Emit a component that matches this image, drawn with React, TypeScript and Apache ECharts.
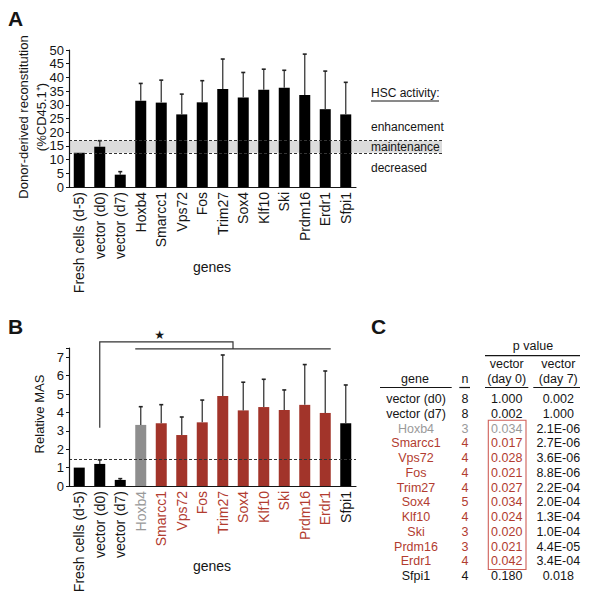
import React, { useEffect, useRef } from 'react';
import * as echarts from 'echarts';

// ---------- data ----------
const categories = ['Fresh cells (d-5)', 'vector (d0)', 'vector (d7)', 'Hoxb4', 'Smarcc1', 'Vps72', 'Fos', 'Trim27', 'Sox4', 'Klf10', 'Ski', 'Prdm16', 'Erdr1', 'Sfpi1'];
const reconValues = [12.5, 14.7, 4.5, 31.5, 30.8, 26.5, 30.9, 35.8, 32.7, 35.5, 36.2, 33.6, 28.4, 26.5];
const reconErrTop = [null, 16.9, 5.6, 37.8, 39.0, 33.9, 38.8, 46.7, 41.8, 43.0, 42.6, 48.5, 42.3, 38.2];
const maintenanceBand = [12.5, 16.9];
const masValues = [1.0, 1.2, 0.33, 3.32, 3.41, 2.77, 3.46, 4.89, 4.11, 4.29, 4.13, 4.41, 3.97, 3.41];
const masErrTop = [null, 1.42, 0.4, 4.31, 4.42, 3.75, 4.67, 7.12, 5.64, 5.8, 5.22, 6.6, 6.25, 5.49];
const masThreshold = 1.45;
const masGroup = ['control', 'control', 'control', 'reference', 'hit', 'hit', 'hit', 'hit', 'hit', 'hit', 'hit', 'hit', 'hit', 'other'];
const bracketFrom = 'vector (d0)';
const bracketRange = ['Hoxb4', 'Erdr1'];
const bracketLevels = [3.17, 7.83, 7.45];

const tableGenes = ['vector (d0)', 'vector (d7)', 'Hoxb4', 'Smarcc1', 'Vps72', 'Fos', 'Trim27', 'Sox4', 'Klf10', 'Ski', 'Prdm16', 'Erdr1', 'Sfpi1'];
const tableN = ['8', '8', '3', '4', '4', '4', '4', '5', '4', '3', '3', '4', '4'];
const pDay0 = ['1.000', '0.002', '0.034', '0.017', '0.028', '0.021', '0.027', '0.034', '0.024', '0.020', '0.021', '0.042', '0.180'];
const pDay7 = ['0.002', '1.000', '2.1E-06', '2.7E-06', '3.6E-06', '8.8E-06', '2.2E-04', '2.0E-04', '1.3E-04', '1.0E-04', '4.4E-05', '3.4E-04', '0.018'];
const tableGroup = ['control', 'control', 'reference', 'hit', 'hit', 'hit', 'hit', 'hit', 'hit', 'hit', 'hit', 'hit', 'other'];

// ---------- styles ----------
const FONT = '"Liberation Sans", Arial, Helvetica, sans-serif';
const INK = '#151515';
const barColor: Record<string, string> = { control: '#000000', reference: '#8e8e8e', hit: '#a2342a', other: '#000000' };
const textColor: Record<string, string> = { control: INK, reference: '#9a9a9a', hit: '#b23c30', other: INK };

function errSeries(xi: number, yi: number, vals: number[], tops: (number | null)[]) {
  return {
    type: 'custom',
    xAxisIndex: xi,
    yAxisIndex: yi,
    z: 4,
    silent: true,
    data: vals.map((v, i) => [i, v, tops[i]]).filter((d) => d[2] != null),
    encode: { x: 0, y: [1, 2] },
    renderItem: (params: any, api: any) => {
      const x = api.value(0);
      const lo = api.coord([x, api.value(1)]);
      const hi = api.coord([x, api.value(2)]);
      return {
        type: 'group',
        children: [
          { type: 'line', shape: { x1: lo[0], y1: lo[1], x2: hi[0], y2: hi[1] }, style: { stroke: '#3a3a3a', lineWidth: 1.3 } },
          { type: 'line', shape: { x1: hi[0] - 2, y1: hi[1], x2: hi[0] + 2, y2: hi[1] }, style: { stroke: '#222', lineWidth: 1.6 } },
        ],
      };
    },
  };
}

function catAxis(gridIndex: number, colorFn: (i: number) => string) {
  return {
    type: 'category',
    gridIndex,
    data: categories,
    axisLine: { lineStyle: { color: INK, width: 1.2 } },
    axisTick: { length: 4, lineStyle: { color: INK } },
    axisLabel: {
      interval: 0,
      rotate: 90,
      margin: 5,
      fontSize: 14,
      fontFamily: FONT,
      color: (_v: any, i: number) => colorFn(i),
    },
  };
}

function valAxis(gridIndex: number, max: number, interval: number) {
  return {
    type: 'value',
    gridIndex,
    min: 0,
    max,
    interval,
    z: 5,
    splitLine: { show: false },
    axisLine: { show: true, lineStyle: { color: INK, width: 1.2 } },
    axisTick: { show: true, length: 3, lineStyle: { color: INK } },
    axisLabel: {
      fontSize: 13,
      fontFamily: FONT,
      color: INK,
      margin: 5,
      formatter: (v: number) => (Number.isInteger(v) ? String(v) : ''),
    },
  };
}

export default function App() {
  const ref = useRef<HTMLDivElement>(null);

  useEffect(() => {
    if (!ref.current) return;
    const chart = echarts.init(ref.current, undefined, { renderer: 'svg' });

    const option: any = {
      animation: false,
      backgroundColor: '#ffffff',
      textStyle: { fontFamily: FONT },
      grid: [
        { left: 69, top: 50, width: 287, height: 137 },
        { left: 69, top: 50, width: 373, height: 137 },
        { left: 69, top: 348, width: 287, height: 138 },
      ],
      xAxis: [
        catAxis(0, () => INK),
        catAxis(2, (i) => textColor[masGroup[i]]),
        { type: 'value', gridIndex: 1, min: 0, max: 1, show: false },
      ],
      yAxis: [
        valAxis(0, 50, 5),
        valAxis(2, 7.5, 1),
        { type: 'value', gridIndex: 1, min: 0, max: 50, show: false },
      ],
      series: [
        {
          type: 'line',
          xAxisIndex: 2,
          yAxisIndex: 2,
          data: [[0, 0]],
          symbol: 'none',
          lineStyle: { opacity: 0 },
          silent: true,
          z: 1,
          markArea: {
            silent: true,
            itemStyle: { color: '#dcdcdc' },
            data: [[{ yAxis: maintenanceBand[0] }, { yAxis: maintenanceBand[1] }]],
          },
          markLine: {
            silent: true,
            symbol: 'none',
            label: { show: false },
            lineStyle: { type: [3, 2], color: '#333', width: 1.2 },
            data: [{ yAxis: maintenanceBand[0] }, { yAxis: maintenanceBand[1] }],
          },
        },
        {
          type: 'bar',
          xAxisIndex: 0,
          yAxisIndex: 0,
          barWidth: 11,
          z: 3,
          data: reconValues.map((v) => ({ value: v, itemStyle: { color: '#000' } })),
        },
        errSeries(0, 0, reconValues, reconErrTop),
        {
          type: 'line',
          xAxisIndex: 1,
          yAxisIndex: 1,
          data: [[0, 0]],
          symbol: 'none',
          lineStyle: { opacity: 0 },
          silent: true,
          z: 1,
          markLine: {
            silent: true,
            symbol: 'none',
            label: { show: false },
            lineStyle: { type: [3, 2], color: '#333', width: 1.2 },
            data: [{ yAxis: masThreshold }],
          },
        },
        {
          type: 'bar',
          xAxisIndex: 1,
          yAxisIndex: 1,
          barWidth: 11,
          z: 3,
          data: masValues.map((v, i) => ({ value: v, itemStyle: { color: barColor[masGroup[i]] } })),
        },
        errSeries(1, 1, masValues, masErrTop),
      ],
    };
    chart.setOption(option);

    // ---------- annotations ----------
    const pxB = (cat: string, v: number) =>
      chart.convertToPixel({ xAxisIndex: 1, yAxisIndex: 1 }, [categories.indexOf(cat), v]) as number[];
    const base = pxB(bracketFrom, bracketLevels[0]);
    const up = pxB(bracketFrom, bracketLevels[1]);
    const left = pxB(bracketRange[0], bracketLevels[2]);
    const right = pxB(bracketRange[1], bracketLevels[2]);
    const midX = (left[0] + right[0]) / 2;
    const lineStyle = { stroke: '#333', lineWidth: 1.2, fill: null };

    const txt = (x: number, y: number, text: string, o: any = {}) => ({
      type: 'text',
      x,
      y,
      z: 100,
      silent: true,
      style: {
        text,
        fontFamily: FONT,
        fontSize: 12.5,
        fill: INK,
        textAlign: 'center',
        textVerticalAlign: 'middle',
        ...o,
      },
    });

    const graphics: any[] = [
      txt(8, 18, 'A', { textAlign: 'left', fontSize: 21, fontWeight: 'bold' }),
      txt(8, 326, 'B', { textAlign: 'left', fontSize: 21, fontWeight: 'bold' }),
      txt(371, 326, 'C', { textAlign: 'left', fontSize: 21, fontWeight: 'bold' }),
      {
        ...txt(32, 117, 'Donor-derived reconstitution\n(%CD45.1⁺)', { fontSize: 13, lineHeight: 18 }),
        rotation: Math.PI / 2,
      },
      { ...txt(39, 414, 'Relative MAS', { fontSize: 13 }), rotation: Math.PI / 2 },
      txt(212, 267, 'genes', { fontSize: 14 }),
      txt(212, 566, 'genes', { fontSize: 14 }),
      txt(371, 93, 'HSC activity:', { textAlign: 'left', fontSize: 12 }),
      { type: 'line', z: 100, silent: true, shape: { x1: 371, y1: 101, x2: 439, y2: 101 }, style: { stroke: INK, lineWidth: 1 } },
      txt(371, 127, 'enhancement', { textAlign: 'left', fontSize: 12 }),
      txt(371, 147, 'maintenance', { textAlign: 'left', fontSize: 12 }),
      txt(371, 168, 'decreased', { textAlign: 'left', fontSize: 12 }),
      {
        type: 'polyline',
        z: 100,
        silent: true,
        shape: { points: [base, up, [midX, up[1]], [midX, left[1]]] },
        style: lineStyle,
      },
      {
        type: 'line',
        z: 100,
        silent: true,
        shape: { x1: left[0] - 5.5, y1: left[1], x2: right[0] + 5.5, y2: right[1] },
        style: lineStyle,
      },
      txt(up[0] + (midX - up[0]) * 0.45, up[1] - 7, '★', { fontSize: 12, fontFamily: '"DejaVu Sans", sans-serif' }),
    ];

    // table
    const colX = [416, 465, 506.7, 558.3];
    const row0 = 399.3;
    const rowH = 14.72;
    const hline = (a: number, b: number, y: number) => ({
      type: 'line', z: 100, silent: true, shape: { x1: a, y1: y, x2: b, y2: y }, style: { stroke: INK, lineWidth: 1.2 },
    });
    graphics.push(txt(533, 346, 'p value'));
    graphics.push(hline(485, 580, 355.7));
    graphics.push(txt(colX[2], 364, 'vector'));
    graphics.push(txt(colX[3], 364, 'vector'));
    graphics.push(txt(colX[2], 378.5, '(day 0)'));
    graphics.push(txt(colX[3], 378.5, '(day 7)'));
    graphics.push(txt(415, 378.5, 'gene'));
    graphics.push(txt(colX[1], 378.5, 'n'));
    [[380, 451.7], [459.3, 470], [485, 528.3], [533.3, 580]].forEach(([a, b]) => graphics.push(hline(a, b, 387.5)));
    tableGenes.forEach((g, i) => {
      const y = row0 + i * rowH;
      const c = textColor[tableGroup[i]];
      graphics.push(txt(colX[0], y, g, { fill: c }));
      graphics.push(txt(colX[1], y, tableN[i], { fill: c }));
      graphics.push(txt(colX[2], y, pDay0[i], { fill: c }));
      graphics.push(txt(colX[3], y, pDay7[i], { fill: INK }));
    });
    const boxTop = row0 + tableGenes.indexOf('Hoxb4') * rowH - 8.5;
    const boxBottom = row0 + tableGenes.indexOf('Erdr1') * rowH + 8.3;
    graphics.push({
      type: 'rect',
      z: 100,
      silent: true,
      shape: { x: 488.3, y: boxTop, width: 37.7, height: boxBottom - boxTop },
      style: { fill: null, stroke: '#cf5f58', lineWidth: 1.1 },
    });

    chart.setOption({ graphic: graphics });

    return () => chart.dispose();
  }, []);

  return (
    <div
      ref={ref}
      style={{ position: 'absolute', left: 0, top: 0, width: 589, height: 601, background: '#fff' }}
    />
  );
}
